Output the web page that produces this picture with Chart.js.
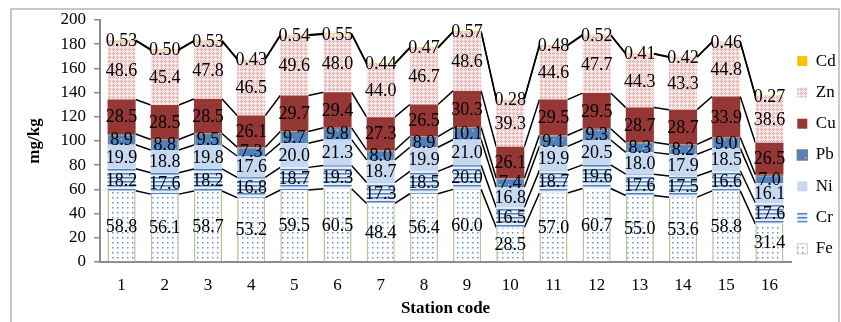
<!DOCTYPE html>
<html>
<head>
<meta charset="utf-8">
<script src="https://cdn.jsdelivr.net/npm/chart.js@4"></script>
<style>
  html, body { margin: 0; padding: 0; background: #fff; overflow: hidden; }
  #frame { position: absolute; left: 10px; top: 8px; width: 826px; height: 340px; border: 2px solid #c8c8c8; }
  #chart { position: absolute; left: 0; top: 0; }
</style>
</head>
<body>
<div id="frame"></div>
<canvas id="chart" width="841" height="322"></canvas>
<script>
const stations = ['1','2','3','4','5','6','7','8','9','10','11','12','13','14','15','16'];
const fe = [58.8, 56.1, 58.7, 53.2, 59.5, 60.5, 48.4, 56.4, 60.0, 28.5, 57.0, 60.7, 55.0, 53.6, 58.8, 31.4];
const cr = [18.2, 17.6, 18.2, 16.8, 18.7, 19.3, 17.3, 18.5, 20.0, 16.5, 18.7, 19.6, 17.6, 17.5, 16.6, 17.6];
const ni = [19.9, 18.8, 19.8, 17.6, 20.0, 21.3, 18.7, 19.9, 21.0, 16.8, 19.9, 20.5, 18.0, 17.9, 18.5, 16.1];
const pb = [8.9, 8.8, 9.5, 7.3, 9.7, 9.8, 8.0, 8.9, 10.1, 7.4, 9.1, 9.3, 8.3, 8.2, 9.0, 7.0];
const cu = [28.5, 28.5, 28.5, 26.1, 29.7, 29.4, 27.3, 26.5, 30.3, 26.1, 29.5, 29.5, 28.7, 28.7, 33.9, 26.5];
const zn = [48.6, 45.4, 47.8, 46.5, 49.6, 48.0, 44.0, 46.7, 48.6, 39.3, 44.6, 47.7, 44.3, 43.3, 44.8, 38.6];
const cd = [0.53, 0.50, 0.53, 0.43, 0.54, 0.55, 0.44, 0.47, 0.57, 0.28, 0.48, 0.52, 0.41, 0.42, 0.46, 0.27];
const yTicks = [0, 20, 40, 60, 80, 100, 120, 140, 160, 180, 200];

const SERIF = "'Liberation Serif', 'Times New Roman', serif";

function makePattern(w, h, draw) {
    const c = document.createElement('canvas');
    c.width = w; c.height = h;
    const g = c.getContext('2d');
    draw(g);
    return g.createPattern(c, 'repeat');
}

const ctx = document.getElementById('chart').getContext('2d');

const fePattern = makePattern(5, 5, g => {
    g.fillStyle = '#ffffff'; g.fillRect(0, 0, 5, 5);
    g.fillStyle = '#5f92d2'; g.fillRect(2, 2, 1.5, 1.5);
});
const crPattern = makePattern(4, 4, g => {
    g.fillStyle = '#e4ecf7'; g.fillRect(0, 0, 4, 4);
    g.fillStyle = '#4f81bd'; g.fillRect(0, 1, 4, 1.5);
});
const pbPattern = makePattern(9, 9, g => {
    g.fillStyle = '#4f81bd'; g.fillRect(0, 0, 9, 9);
    g.fillStyle = '#c9d9ee'; g.fillRect(4, 4, 1.2, 1.2);
});
const znPattern = makePattern(4, 4, g => {
    g.fillStyle = '#f6e4e3'; g.fillRect(0, 0, 4, 4);
    g.fillStyle = '#e0a3a2';
    g.fillRect(1, 0, 1, 1); g.fillRect(0, 1, 1, 1); g.fillRect(2, 1, 1, 1); g.fillRect(1, 2, 1, 1);
    g.fillStyle = '#ffffff'; g.fillRect(3, 3, 1, 1);
});

// lines joining the top of each segment from one bar to the next
const seriesLines = {
    id: 'seriesLines',
    beforeDatasetsDraw(chart) {
        const c = chart.ctx;
        c.save();
        c.strokeStyle = '#000';
        c.lineWidth = 1.5;
        chart.data.datasets.forEach((ds, di) => {
            const bars = chart.getDatasetMeta(di).data;
            for (let i = 0; i < bars.length - 1; i++) {
                const a = bars[i], b = bars[i + 1];
                c.beginPath();
                c.moveTo(a.x + a.width / 2, a.y);
                c.lineTo(b.x - b.width / 2, b.y);
                c.stroke();
            }
        });
        c.restore();
    }
};

const valueLabels = {
    id: 'valueLabels',
    afterDatasetsDraw(chart) {
        const c = chart.ctx;
        c.save();
        c.font = '18px ' + SERIF;
        c.fillStyle = '#000';
        c.textAlign = 'center';
        c.textBaseline = 'middle';
        chart.data.datasets.forEach((ds, di) => {
            const bars = chart.getDatasetMeta(di).data;
            bars.forEach((bar, i) => {
                const v = ds.data[i];
                const txt = ds.label === 'Cd' ? v.toFixed(2) : v.toFixed(1);
                c.fillText(txt, bar.x, (bar.y + bar.base) / 2 + 1);
            });
        });
        c.restore();
    }
};

// nudge the legend a little left and up, like the original
const legendShift = {
    id: 'legendShift',
    afterLayout(chart) {
        const lg = chart.legend;
        if (!lg) return;
        const dx = -8, dy = -16;
        lg.left += dx;
        lg.top += dy; lg.bottom += dy;
        lg.right = chart.width;
        lg.width = lg.right - lg.left;
    }
};

new Chart(ctx, {
    type: 'bar',
    data: {
        labels: stations,
        datasets: [
            { label: 'Fe', data: fe, backgroundColor: fePattern, borderColor: '#c4bd97', borderWidth: { left: 1.5, right: 1.5, top: 0, bottom: 0 } },
            { label: 'Cr', data: cr, backgroundColor: crPattern, borderColor: '#c6d0dc', borderWidth: 0 },
            { label: 'Ni', data: ni, backgroundColor: '#c6d9f1', borderWidth: 0 },
            { label: 'Pb', data: pb, backgroundColor: pbPattern, borderColor: '#7f7f7f', borderWidth: { left: 1.5, right: 1.5, top: 1.5, bottom: 1.5 } },
            { label: 'Cu', data: cu, backgroundColor: '#953735', borderWidth: 0 },
            { label: 'Zn', data: zn, backgroundColor: znPattern, borderWidth: 0 },
            { label: 'Cd', data: cd, backgroundColor: '#ffc000', borderWidth: 0 }
        ]
    },
    options: {
        responsive: false,
        animation: false,
        categoryPercentage: 1.0,
        barPercentage: 0.65,
        layout: { padding: { left: 18, top: 20, right: 0, bottom: 0 } },
        scales: {
            x: {
                stacked: true,
                grid: { display: false, drawTicks: false },
                border: { color: '#8c8c8c', width: 2 },
                ticks: { color: '#000', font: { family: SERIF, size: 17 }, padding: 13 },
                title: { display: true, text: 'Station code', color: '#000', font: { family: SERIF, size: 17, weight: 'bold' }, padding: { top: 0, bottom: 3 } },
                afterFit: s => { s.height = 60; }
            },
            y: {
                stacked: true,
                min: 0,
                max: 200,
                afterBuildTicks: s => { s.ticks = yTicks.map(v => ({ value: v })); },
                grid: { drawOnChartArea: false, drawTicks: true, tickLength: 6, color: '#8c8c8c', lineWidth: 1.5 },
                border: { color: '#8c8c8c', width: 2 },
                ticks: { color: '#000', font: { family: SERIF, size: 17 }, padding: 8 },
                title: { display: true, text: 'mg/kg', color: '#000', font: { family: SERIF, size: 17, weight: 'bold' }, padding: { top: 6, bottom: 4 } },
                afterFit: s => { s.width = 82; }
            }
        },
        plugins: {
            legend: {
                position: 'right',
                reverse: true,
                maxWidth: 50,
                labels: {
                    color: '#000',
                    font: { family: SERIF, size: 17 },
                    boxWidth: 10,
                    boxHeight: 10,
                    padding: 14.3
                }
            },
            tooltip: { enabled: false }
        }
    },
    plugins: [seriesLines, valueLabels, legendShift]
});
</script>
</body>
</html>
